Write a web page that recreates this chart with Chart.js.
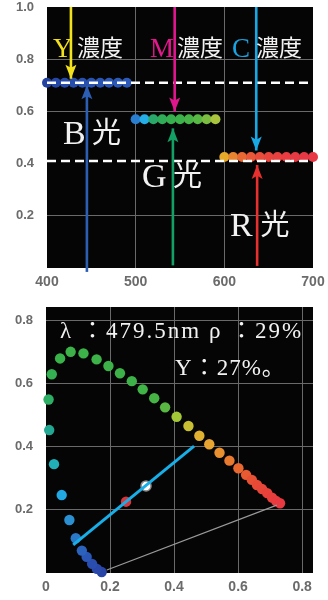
<!DOCTYPE html>
<html>
<head>
<meta charset="utf-8">
<script src="https://cdn.jsdelivr.net/npm/chart.js@4.4.1/dist/chart.umd.min.js"></script>
<style>
  html, body { margin: 0; padding: 0; background: #fff; }
  #wrap { position: relative; width: 328px; height: 600px; }
  #chartTop { position: absolute; left: 0; top: 0; }
  #chartBottom { position: absolute; left: 0; top: 295px; }
</style>
</head>
<body>
<div id="wrap">
  <canvas id="chartTop" width="328" height="295"></canvas>
  <canvas id="chartBottom" width="328" height="305"></canvas>
</div>
<script>
// Top chart: wavelength (nm) vs density
const waveB = [400, 410, 420, 430, 440, 450, 460, 470, 480, 490];
const densB = [0.71, 0.71, 0.71, 0.71, 0.71, 0.71, 0.71, 0.71, 0.71, 0.71];
const waveG = [500, 510, 520, 530, 540, 550, 560, 570, 580, 590];
const densG = [0.57, 0.57, 0.57, 0.57, 0.57, 0.57, 0.57, 0.57, 0.57, 0.57];
const waveR = [600, 610, 620, 630, 640, 650, 660, 670, 680, 690, 700];
const densR = [0.425, 0.425, 0.425, 0.425, 0.425, 0.425, 0.425, 0.425, 0.425, 0.425, 0.425];
const dashX = [400, 700];
const dashHigh = [0.71, 0.71];
const dashLow = [0.41, 0.41];

// arrows: Y, B, M, G, C, R
const arrowWave = [427, 445, 544, 542, 636, 637];
const arrowFrom = [1.0, -0.015, 1.0, 0.01, 1.0, 0.008];
const arrowTo = [0.725, 0.70, 0.60, 0.535, 0.45, 0.395];

const topXTicks = [400, 500, 600, 700];
const topYTicks = [0.2, 0.4, 0.6, 0.8, 1.0];

// Bottom chart: chromaticity (x, y)
const locusX = [0.174, 0.159, 0.144, 0.127, 0.112, 0.093, 0.073, 0.049, 0.025, 0.010, 0.008, 0.018,
  0.044, 0.077, 0.117, 0.158, 0.195, 0.231, 0.268, 0.302, 0.338, 0.372, 0.408, 0.445, 0.479,
  0.510, 0.542, 0.573, 0.601, 0.625, 0.643, 0.659, 0.675, 0.691, 0.706, 0.719, 0.731];
const locusY = [0.003, 0.013, 0.029, 0.051, 0.071, 0.110, 0.168, 0.247, 0.345, 0.453, 0.550, 0.630,
  0.680, 0.701, 0.696, 0.677, 0.656, 0.633, 0.608, 0.582, 0.554, 0.525, 0.495, 0.466, 0.435,
  0.408, 0.381, 0.356, 0.332, 0.311, 0.295, 0.279, 0.266, 0.253, 0.239, 0.228, 0.221];
const cyanLineX = [0.085, 0.4625];
const cyanLineY = [0.089, 0.402];
const grayLineX = [0.190, 0.721];
const grayLineY = [0.0095, 0.215];
const redPointX = [0.250];
const redPointY = [0.226];
const whitePointX = [0.3125];
const whitePointY = [0.276];

const botXTicks = [0, 0.2, 0.4, 0.6, 0.8];
const botYTicks = [0.2, 0.4, 0.6, 0.8];

// colours
const colB = ['#2444a0', '#2547a5', '#264aa9', '#274dac', '#2850ae', '#2952b0', '#2a54b2', '#2b56b4', '#2c58b6', '#2d5ab8'];
const colG = ['#2a7ed0', '#24ade6', '#2aa86a', '#30ac58', '#36b04e', '#3cb24a', '#46b446', '#58b844', '#7abd40', '#a8c43c'];
const colR = ['#e8a828', '#e88430', '#e86834', '#e85838', '#e84c3a', '#e8443c', '#e8403e', '#e83c40', '#e83a42', '#e83844', '#e83846'];
const arrowColors = ['#f2e21c', '#2c5fb4', '#e0178c', '#12a064', '#18a8e6', '#e8302e'];
const locusColors = ['#2844a6', '#2a48aa', '#2a4eb0', '#2a56b6', '#2a62bc', '#2a78c8', '#2a90d2', '#22a8e2', '#22b0b8',
  '#22a892', '#2eae64', '#34b052', '#3ab24a', '#3cb248', '#3cb248', '#3cb248', '#3cb248', '#3cb248', '#3eb248',
  '#40b446', '#46b444', '#58b842', '#a2c838', '#c8c032', '#e0b030', '#e8a430', '#e89030', '#e87a30', '#e86830',
  '#e85a32', '#e85034', '#e84a36', '#e84638', '#e8423a', '#e83e3c', '#e83c3e', '#e83a40'];

const gridColor = '#6a6a6a';
const tickFont = { family: 'Liberation Sans', size: 13, weight: 'bold' };
const tickColor = '#6b6b6b';

const pts = (xs, ys) => xs.map((x, i) => ({ x: x, y: ys[i] }));

// black plot area
const plotBg = {
  id: 'plotBg',
  beforeDraw(chart) {
    const { ctx, chartArea: a } = chart;
    ctx.save();
    ctx.fillStyle = '#050505';
    ctx.fillRect(a.left, a.top, a.right - a.left, a.bottom - a.top);
    ctx.restore();
  }
};

// arrow heads at the last point of datasets marked arrowHead
const arrowHeads = {
  id: 'arrowHeads',
  afterDatasetsDraw(chart) {
    const ctx = chart.ctx;
    chart.data.datasets.forEach((ds, i) => {
      if (!ds.arrowHead) return;
      const el = chart.getDatasetMeta(i).data;
      const p0 = el[0], p1 = el[el.length - 1];
      const dx = p1.x - p0.x, dy = p1.y - p0.y;
      const len = Math.hypot(dx, dy) || 1;
      const ux = dx / len, uy = dy / len;
      const nx = -uy, ny = ux;
      const L = 14, W = 5.5;
      ctx.save();
      ctx.fillStyle = ds.borderColor;
      ctx.beginPath();
      ctx.moveTo(p1.x, p1.y);
      ctx.lineTo(p1.x - ux * L + nx * W, p1.y - uy * L + ny * W);
      ctx.lineTo(p1.x - ux * L * 0.78, p1.y - uy * L * 0.78);
      ctx.lineTo(p1.x - ux * L - nx * W, p1.y - uy * L - ny * W);
      ctx.closePath();
      ctx.fill();
      ctx.restore();
    });
  }
};

// text notes placed in data coordinates
const notes = {
  id: 'notes',
  afterDraw(chart, args, opts) {
    const ctx = chart.ctx;
    const sx = chart.scales.x, sy = chart.scales.y;
    (opts.items || []).forEach(n => {
      ctx.save();
      ctx.font = n.font;
      ctx.fillStyle = n.color;
      ctx.textAlign = 'left';
      ctx.textBaseline = 'alphabetic';
      if (n.spacing) ctx.letterSpacing = n.spacing;
      ctx.fillText(n.text, sx.getPixelForValue(n.x), sy.getPixelForValue(n.y));
      ctx.restore();
    });
  }
};

const serif = (s) => s + "px 'Liberation Serif', 'Noto Sans CJK JP'";
const cjk = (s) => s + "px 'Noto Sans CJK JP'";

const topNotes = [
  { text: 'Y', x: 406.8, y: 0.808, font: serif(27), color: '#f2e21c' },
  { text: '濃度', x: 433.9, y: 0.812, font: cjk(23), color: '#f2f2f2' },
  { text: 'M', x: 516.2, y: 0.808, font: serif(27), color: '#e2188c' },
  { text: '濃度', x: 546.6, y: 0.812, font: cjk(23), color: '#f2f2f2' },
  { text: 'C', x: 608.6, y: 0.808, font: serif(27), color: '#1aa3e0' },
  { text: '濃度', x: 635.7, y: 0.812, font: cjk(23), color: '#f2f2f2' },
  { text: 'B', x: 418.0, y: 0.475, font: serif(34), color: '#f2f2f2' },
  { text: '光', x: 450.8, y: 0.480, font: cjk(29), color: '#f2f2f2' },
  { text: 'G', x: 507.1, y: 0.310, font: serif(34), color: '#f2f2f2' },
  { text: '光', x: 542.1, y: 0.315, font: cjk(29), color: '#f2f2f2' },
  { text: 'R', x: 606.4, y: 0.123, font: serif(34), color: '#f2f2f2' },
  { text: '光', x: 640.8, y: 0.128, font: cjk(29), color: '#f2f2f2' }
];

const bottomNotes = [
  { text: 'λ ：479.5nm ρ ：29%', x: 0.044, y: 0.745, font: serif(23), color: '#f2f2f2', spacing: '2px' },
  { text: 'Y：27%。', x: 0.403, y: 0.627, font: serif(23), color: '#f2f2f2', spacing: '1px' }
];

function scaleOpts(min, max, ticks, hidden, fmt, axis, size) {
  return {
    type: 'linear', min: min, max: max,
    afterBuildTicks: s => { s.ticks = ticks.map(v => ({ value: v })); },
    afterFit: s => {
      if (axis === 'x') s.height = size; else s.width = size;
      // plot area is fixed by layout padding, not by label overflow
      s.paddingTop = 0; s.paddingBottom = 0; s.paddingLeft = 0; s.paddingRight = 0;
    },
    grid: {
      drawTicks: false, lineWidth: 1,
      color: c => hidden.some(h => Math.abs(h - c.tick.value) < 1e-9) ? 'rgba(0,0,0,0)' : gridColor
    },
    border: { display: false },
    ticks: {
      color: tickColor, font: axis === 'x' ? Object.assign({}, tickFont, { size: 14 }) : tickFont,
      padding: axis === 'x' ? 6 : 13, autoSkip: false, maxRotation: 0, callback: fmt
    }
  };
}

const common = {
  responsive: false,
  animation: false,
  events: [],
  plugins: { legend: { display: false }, tooltip: { enabled: false } }
};

// top chart
const arrowSets = arrowWave.map((w, i) => ({
  type: 'line',
  data: [{ x: w, y: arrowFrom[i] }, { x: w, y: arrowTo[i] }],
  borderColor: arrowColors[i], borderWidth: 2.6, pointRadius: 0,
  clip: false, arrowHead: true, order: 1
}));

new Chart(document.getElementById('chartTop'), {
  type: 'scatter',
  data: {
    datasets: [
      ...arrowSets,
      { type: 'line', data: pts(dashX, dashHigh), borderColor: '#ffffff', borderWidth: 2.6, borderDash: [9, 5], pointRadius: 0, order: 3 },
      { type: 'line', data: pts(dashX, dashLow), borderColor: '#ffffff', borderWidth: 2.6, borderDash: [9, 5], pointRadius: 0, order: 3 },
      { data: pts(waveB, densB), pointBackgroundColor: colB, pointBorderWidth: 0, pointRadius: 5, clip: false, order: 5 },
      { data: pts(waveG, densG), pointBackgroundColor: colG, pointBorderWidth: 0, pointRadius: 5, clip: false, order: 5 },
      { data: pts(waveR, densR), pointBackgroundColor: colR, pointBorderWidth: 0, pointRadius: 5, clip: false, order: 5 }
    ]
  },
  options: Object.assign({}, common, {
    layout: { padding: { top: 7, right: 15, left: 0, bottom: 0 } },
    scales: {
      x: scaleOpts(400, 700, topXTicks, [400, 700], v => String(v), 'x', 27),
      y: scaleOpts(0, 1.0, topYTicks, [0.4, 1.0], v => v.toFixed(1), 'y', 47)
    },
    plugins: Object.assign({}, common.plugins, { notes: { items: topNotes } })
  }),
  plugins: [plotBg, arrowHeads, notes]
});

// bottom chart
new Chart(document.getElementById('chartBottom'), {
  type: 'scatter',
  data: {
    datasets: [
      { type: 'line', data: pts(cyanLineX, cyanLineY), borderColor: '#18aee8', borderWidth: 3, pointRadius: 0, order: 1 },
      { data: pts(whitePointX, whitePointY), pointBackgroundColor: '#ffffff', pointBorderColor: '#8a8a8a', pointBorderWidth: 1.5, pointRadius: 5, order: 2 },
      { data: pts(redPointX, redPointY), pointBackgroundColor: '#d8363a', pointBorderWidth: 0, pointRadius: 5.2, order: 2 },
      { type: 'line', data: pts(grayLineX, grayLineY), borderColor: '#9a9a9a', borderWidth: 1.2, pointRadius: 0, order: 4 },
      { data: pts(locusX, locusY), pointBackgroundColor: locusColors, pointBorderWidth: 0, pointRadius: 5.2, clip: false, order: 5 }
    ]
  },
  options: Object.assign({}, common, {
    layout: { padding: { top: 12, right: 15, left: 0, bottom: 0 } },
    scales: {
      x: scaleOpts(0, 0.834, botXTicks, [0], v => v === 0 ? '0' : v.toFixed(1), 'x', 27),
      y: scaleOpts(0, 0.843, botYTicks, [], v => v.toFixed(1), 'y', 46)
    },
    plugins: Object.assign({}, common.plugins, { notes: { items: bottomNotes } })
  }),
  plugins: [plotBg, arrowHeads, notes]
});
</script>
</body>
</html>
